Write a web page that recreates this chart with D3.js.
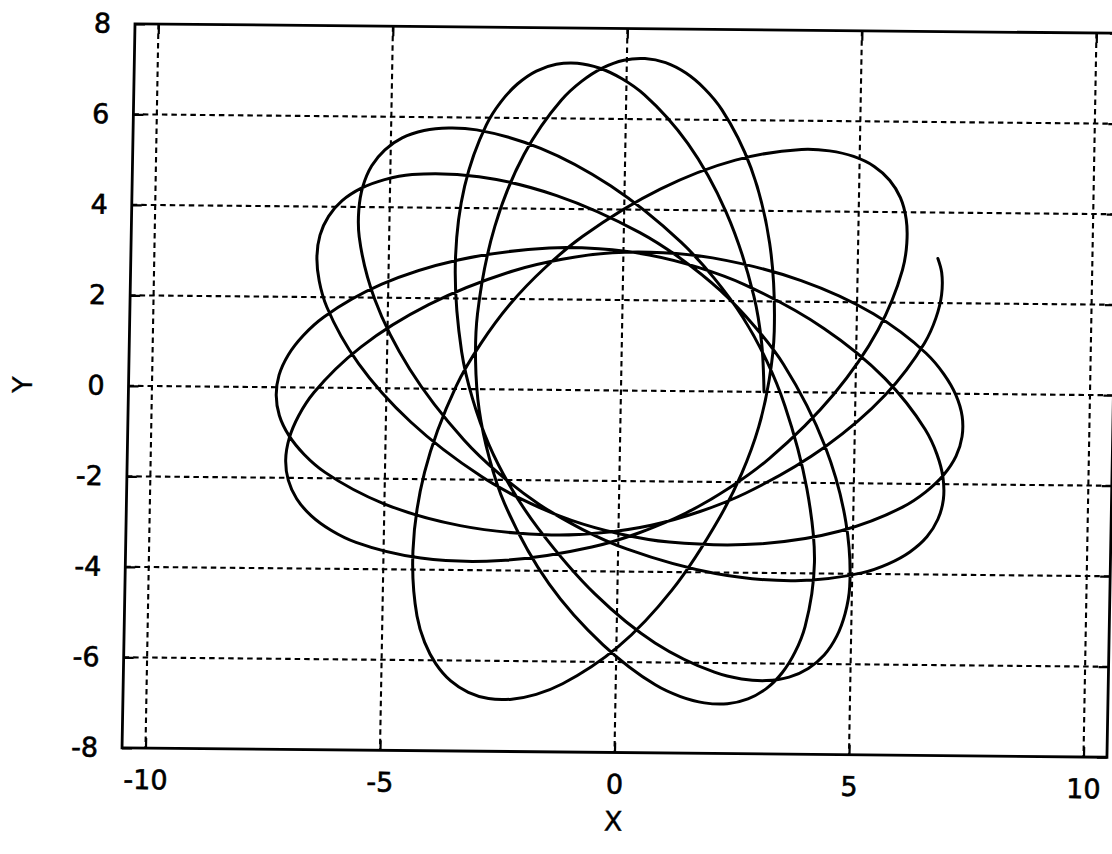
<!DOCTYPE html>
<html>
<head>
<meta charset="utf-8">
<script src="https://cdn.jsdelivr.net/npm/d3@7"></script>
<style>
  html, body { margin: 0; padding: 0; background: #ffffff; }
  svg { display: block; }
</style>
</head>
<body>
<svg id="chart" width="1112" height="854"></svg>
<script>
// Axis ticks and ranges
const xTicks = [-10, -5, 0, 5, 10];
const yTicks = [-8, -6, -4, -2, 0, 2, 4, 6, 8];
const xDomain = [-10.5, 10.5];
const yDomain = [-8, 8];

// Trajectory samples in polar form: cumulative polar angle (degrees) and radius.
// Each row is one quarter-turn, periapsis -> apoapsis or apoapsis -> periapsis.
const orbitAngleDeg = [
  0, 19.9, 37.2, 61.4, 76.3, 86.6, 90.8, 94.6, 98.3,
  101.8, 105.3, 109.0, 112.8, 117.0, 127.3, 142.2, 166.4, 183.7,
  203.6, 223.5, 240.8, 264.0, 278.4, 288.7, 292.9, 296.7, 300.4,
  303.9, 307.4, 311.1, 314.9, 319.1, 329.4, 344.8, 370.0, 387.3,
  407.2, 427.1, 444.4, 468.6, 483.5, 493.8, 498.0, 501.8, 505.5,
  509.0, 512.5, 516.2, 520.0, 524.2, 534.5, 549.4, 573.6, 590.9,
  610.8, 630.7, 648.0, 672.2, 687.1, 697.4, 701.6, 705.4, 709.1,
  712.6, 716.1, 719.8, 723.6, 727.8, 738.1, 753.0, 777.2, 794.5,
  814.4, 834.3, 851.6, 875.8, 890.7, 901.0, 905.2, 909.0, 912.7,
  916.2, 919.7, 923.4, 927.2, 931.4, 941.7, 956.6, 980.8, 998.1,
  1018.0, 1037.9, 1055.2, 1079.4, 1094.3, 1104.6, 1108.8, 1112.6, 1116.3,
  1119.8, 1123.3, 1127.0, 1130.8, 1135.0, 1145.3, 1160.2, 1184.4, 1201.7,
  1221.6, 1241.5, 1258.8, 1284.0, 1299.4, 1309.7, 1313.9, 1317.7, 1321.4,
  1324.9, 1328.4, 1332.1, 1335.9, 1340.1, 1350.4, 1364.8, 1388.0, 1405.3,
  1425.2, 1445.1, 1462.4, 1486.6, 1501.5, 1511.8, 1516.0, 1519.8, 1523.5,
  1527.0, 1530.5, 1534.2, 1538.0, 1542.2, 1552.5, 1567.4, 1591.6, 1608.9,
  1628.8, 1648.7, 1666.0, 1691.2, 1707.1, 1717.4, 1721.6, 1725.4, 1729.1,
  1732.6, 1736.1, 1739.8, 1743.6, 1747.8, 1758.1, 1772.0, 1795.2, 1812.5,
  1832.4, 1852.3, 1869.6, 1893.8, 1908.7, 1919.0, 1923.2, 1927.0, 1930.7,
  1934.2, 1937.7, 1941.4, 1945.2, 1949.4, 1959.7, 1974.6, 1998.8, 2016.1,
  2036.0, 2055.9, 2073.2, 2097.4, 2112.3, 2122.6, 2126.8, 2130.6, 2134.3,
  2137.8, 2141.3, 2145.0, 2148.8, 2153.0, 2163.3, 2178.2, 2202.4, 2219.7,
  2239.6, 2259.5, 2276.8, 2301.0, 2315.9, 2326.2, 2330.4, 2334.2, 2337.9,
  2341.4, 2344.9, 2348.6, 2352.4, 2356.6, 2366.9, 2381.8, 2406.0, 2423.3,
  2443.2, 2463.1, 2480.4, 2504.6, 2519.5, 2529.8, 2534.0, 2537.8, 2541.5,
  2544.0
];

const orbitRadius = [
  3.05, 3.17, 3.51, 4.53, 5.63, 6.55, 6.89, 7.14, 7.30,
  7.35, 7.30, 7.14, 6.89, 6.55, 5.63, 4.53, 3.51, 3.17,
  3.05, 3.17, 3.51, 4.53, 5.63, 6.55, 6.89, 7.14, 7.30,
  7.35, 7.30, 7.14, 6.89, 6.55, 5.63, 4.53, 3.51, 3.17,
  3.05, 3.17, 3.51, 4.53, 5.63, 6.55, 6.89, 7.14, 7.30,
  7.35, 7.30, 7.14, 6.89, 6.55, 5.63, 4.53, 3.51, 3.17,
  3.05, 3.17, 3.51, 4.53, 5.63, 6.55, 6.89, 7.14, 7.30,
  7.35, 7.30, 7.14, 6.89, 6.55, 5.63, 4.53, 3.51, 3.17,
  3.05, 3.17, 3.51, 4.53, 5.63, 6.55, 6.89, 7.14, 7.30,
  7.35, 7.30, 7.14, 6.89, 6.55, 5.63, 4.53, 3.51, 3.17,
  3.05, 3.17, 3.51, 4.53, 5.63, 6.55, 6.89, 7.14, 7.30,
  7.35, 7.30, 7.14, 6.89, 6.55, 5.63, 4.53, 3.51, 3.17,
  3.05, 3.17, 3.51, 4.55, 5.66, 6.59, 6.94, 7.19, 7.35,
  7.40, 7.35, 7.19, 6.94, 6.59, 5.66, 4.55, 3.51, 3.17,
  3.05, 3.17, 3.51, 4.53, 5.63, 6.55, 6.89, 7.14, 7.30,
  7.35, 7.30, 7.14, 6.89, 6.55, 5.63, 4.53, 3.51, 3.17,
  3.05, 3.17, 3.51, 4.53, 5.63, 6.55, 6.89, 7.14, 7.30,
  7.35, 7.30, 7.14, 6.89, 6.55, 5.63, 4.53, 3.51, 3.17,
  3.05, 3.17, 3.51, 4.53, 5.63, 6.55, 6.89, 7.14, 7.30,
  7.35, 7.30, 7.14, 6.89, 6.55, 5.63, 4.53, 3.51, 3.17,
  3.05, 3.17, 3.51, 4.53, 5.63, 6.55, 6.89, 7.14, 7.30,
  7.35, 7.30, 7.14, 6.89, 6.55, 5.63, 4.53, 3.51, 3.17,
  3.05, 3.17, 3.51, 4.53, 5.63, 6.55, 6.89, 7.14, 7.30,
  7.35, 7.30, 7.14, 6.89, 6.55, 5.63, 4.53, 3.51, 3.17,
  3.05, 3.17, 3.51, 4.53, 5.63, 6.55, 6.89, 7.14, 7.30,
  7.34
];

const W = 984.9, H = 724;
const FONT = "'DejaVu Sans', 'Liberation Sans', sans-serif";

const x = d3.scaleLinear().domain(xDomain).range([0, W]);
const y = d3.scaleLinear().domain(yDomain).range([H, 0]);

const svg = d3.select('#chart');
svg.append('rect').attr('width', 1112).attr('height', 854).attr('fill', '#ffffff');

// The printed page sits slightly tilted and sheared.
const plot = svg.append('g')
  .attr('transform', 'matrix(1,0.0096,-0.0179,1,135,23.8)');

// Dashed grid
const grid = plot.append('g')
  .attr('stroke', '#000')
  .attr('stroke-width', 2.1)
  .attr('stroke-dasharray', '5.5,4')
  .attr('fill', 'none');
grid.selectAll('line.gx').data(xTicks).join('line')
  .attr('class', 'gx')
  .attr('x1', d => x(d)).attr('x2', d => x(d))
  .attr('y1', 0).attr('y2', H);
grid.selectAll('line.gy').data(yTicks.filter(d => d > yDomain[0] && d < yDomain[1])).join('line')
  .attr('class', 'gy')
  .attr('x1', 0).attr('x2', W)
  .attr('y1', d => y(d)).attr('y2', d => y(d));

// Axes with inward ticks
const fmt = d => String(d);
function styleAxis(sel) {
  sel.select('.domain').remove();
  sel.selectAll('.tick line').attr('stroke', '#000').attr('stroke-width', 2.2);
  sel.selectAll('.tick text')
    .attr('fill', '#000')
    .attr('stroke', '#000')
    .attr('stroke-width', 0.6)
    .style('font-family', FONT)
    .style('font-size', '27px');
}
plot.append('g').attr('transform', `translate(0,${H})`)
  .call(d3.axisBottom(x).tickValues(xTicks).tickFormat(fmt).tickSize(-10).tickPadding(22))
  .call(styleAxis);
plot.append('g')
  .call(d3.axisLeft(y).tickValues(yTicks).tickFormat(fmt).tickSize(-10).tickPadding(24))
  .call(styleAxis);
plot.append('g')
  .call(d3.axisTop(x).tickValues(xTicks).tickFormat('').tickSize(-10))
  .call(styleAxis);
plot.append('g').attr('transform', `translate(${W},0)`)
  .call(d3.axisRight(y).tickValues(yTicks).tickFormat('').tickSize(-10))
  .call(styleAxis);

// Trajectory
const orbit = orbitAngleDeg.map((a, i) => {
  const t = a * Math.PI / 180;
  return { px: orbitRadius[i] * Math.cos(t), py: orbitRadius[i] * Math.sin(t) };
});
const line = d3.line()
  .x(d => x(d.px))
  .y(d => y(d.py))
  .curve(d3.curveCatmullRom.alpha(0.5));
plot.append('path')
  .datum(orbit)
  .attr('d', line)
  .attr('fill', 'none')
  .attr('stroke', '#000')
  .attr('stroke-width', 3)
  .attr('stroke-linejoin', 'round')
  .attr('stroke-linecap', 'round');

// Frame
plot.append('rect')
  .attr('x', 0).attr('y', 0).attr('width', W).attr('height', H)
  .attr('fill', 'none').attr('stroke', '#000').attr('stroke-width', 2.8);

// Axis titles
plot.append('text')
  .attr('x', x(0)).attr('y', H + 78)
  .attr('text-anchor', 'middle')
  .attr('stroke', '#000').attr('stroke-width', 0.4)
  .style('font-family', FONT).style('font-size', '27px')
  .text('X');
plot.append('text')
  .attr('transform', `translate(-106,${y(0)}) rotate(-90)`)
  .attr('text-anchor', 'middle')
  .attr('dy', '0.35em')
  .attr('stroke', '#000').attr('stroke-width', 0.4)
  .style('font-family', FONT).style('font-size', '27px')
  .text('Y');
</script>
</body>
</html>
